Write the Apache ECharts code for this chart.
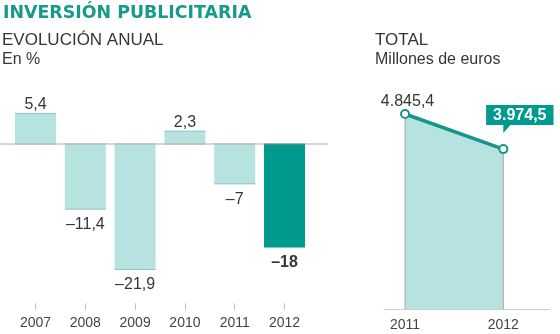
<!DOCTYPE html>
<html>
<head>
<meta charset="utf-8">
<style>html,body{margin:0;padding:0;background:#fff}#c{width:560px;height:334px}</style>
<script src="https://cdn.jsdelivr.net/npm/echarts@6/dist/echarts.min.js"></script>
</head>
<body>
<div id="c"></div>
<script>
// ---- data ----
const years = [2007, 2008, 2009, 2010, 2011, 2012];
const change = [5.4, -11.4, -21.9, 2.3, -7, -18];
const totalYears = [2011, 2012];
const totals = [4845.4, 3974.5];
const titleText = 'INVERSIÓN PUBLICITARIA';
const leftHead = 'EVOLUCIÓN ANUAL';
const leftSub = 'En %';
const rightHead = 'TOTAL';
const rightSub = 'Millones de euros';

// ---- styles ----
const FONT = "'Liberation Sans', Arial, sans-serif";
const TXT = '#363636';
const TEAL = '#009a8f';
const LIGHT = '#b6e3df';
const LINE = '#16968a';

function fmtPct(v) { return String(v).replace('.', ',').replace('-', '\u2013'); }
function fmtTotal(v) {
  const parts = v.toFixed(1).split('.');
  return parts[0].replace(/\B(?=(\d{3})+(?!\d))/g, '.') + ',' + parts[1];
}

const last = years.length - 1;
const barData = years.map((y, i) => ({
  value: [y, change[i]],
  itemStyle: { color: i === last ? TEAL : LIGHT },
  label: {
    position: change[i] >= 0 ? 'top' : 'bottom',
    distance: change[i] >= 0 ? 0.5 : 7,
    fontWeight: i === last ? 'bold' : 'normal'
  }
}));

const lineData = totalYears.map((y, i) => (i === totalYears.length - 1 ? {
  value: [y, totals[i]],
  label: {
    position: 'inside', offset: [16.5, -34],
    color: '#fff', fontWeight: 'bold', backgroundColor: TEAL,
    padding: [2, 7], lineHeight: 16
  }
} : {
  value: [y, totals[i]],
  label: { position: 'inside', offset: [2.5, -12.5], color: TXT }
}));

const chart = echarts.init(document.getElementById('c'), null, { renderer: 'canvas' });

const option = {
  animation: false,
  backgroundColor: '#fff',
  title: [
    { text: titleText, left: 3, top: 4.5, padding: 0,
      textStyle: { fontFamily: "'DejaVu Sans', sans-serif", fontWeight: 'bold', fontSize: 17.4, color: '#17998c' } },
    { text: leftHead, left: 2, top: 32, padding: 0,
      textStyle: { fontFamily: FONT, fontWeight: 'normal', fontSize: 17, color: TXT } },
    { text: leftSub, left: 2, top: 51.5, padding: 0,
      textStyle: { fontFamily: FONT, fontWeight: 'normal', fontSize: 16, color: TXT } },
    { text: rightHead, left: 375, top: 32, padding: 0,
      textStyle: { fontFamily: FONT, fontWeight: 'normal', fontSize: 17, color: TXT } },
    { text: rightSub, left: 375, top: 52, padding: 0,
      textStyle: { fontFamily: FONT, fontWeight: 'normal', fontSize: 16, color: TXT } }
  ],
  grid: [
    { left: 0, width: 327, top: 98, height: 205.3 },
    { left: 384, width: 166, top: 109.3, height: 200 }
  ],
  xAxis: [
    { type: 'value', gridIndex: 0, min: 2006.287, max: 2012.853, position: 'bottom',
      axisLine: { show: true, onZero: true, lineStyle: { color: '#d6d6d6', width: 2 } },
      axisTick: { show: false }, axisLabel: { show: false }, splitLine: { show: false } },
    { type: 'value', gridIndex: 0, min: 2006.287, max: 2012.853, position: 'bottom',
      axisLine: { show: false, onZero: false },
      axisTick: { show: true, customValues: years, length: 6.7, lineStyle: { color: '#c2c2c2' } },
      axisLabel: { show: true, customValues: years, formatter: v => String(v), margin: 12.5,
        fontFamily: FONT, fontSize: 14, color: '#444' },
      splitLine: { show: false } },
    { type: 'value', gridIndex: 1, min: 2010.786, max: 2012.475, position: 'bottom',
      axisLine: { show: true, onZero: false, lineStyle: { color: '#cfcfcf', width: 1 } },
      axisTick: { show: false },
      axisLabel: { show: true, customValues: totalYears, formatter: v => String(v), margin: 8.5,
        fontFamily: FONT, fontSize: 14, color: '#444' },
      splitLine: { show: false } }
  ],
  yAxis: [
    { type: 'value', gridIndex: 0, min: -27.7, max: 8, show: false, splitLine: { show: false } },
    { type: 'value', gridIndex: 1, min: 0, max: 4962, show: false, splitLine: { show: false } }
  ],
  series: [
    { type: 'bar', xAxisIndex: 0, yAxisIndex: 0, barWidth: 41, data: barData, z: 2,
      label: { show: true, fontFamily: FONT, fontSize: 16, color: TXT,
        formatter: p => fmtPct(p.value[1]) } },
    { type: 'custom', xAxisIndex: 0, yAxisIndex: 0, z: 3, silent: true,
      data: years.map((y, i) => [y, change[i], i === last ? 1 : 0]),
      renderItem: function (params, api) {
        const x = api.value(0), v = api.value(1), dark = api.value(2);
        const p0 = api.coord([x, 0]), p1 = api.coord([x, v]);
        const h = 20.5;
        const children = [
          { type: 'line', shape: { x1: p0[0] - h, y1: p0[1], x2: p0[0] + h, y2: p0[1] },
            style: { stroke: dark ? '#6f8f8b' : '#9db3b1', lineWidth: 1.2 } }
        ];
        if (!dark) {
          const off = v >= 0 ? 0.5 : -0.5;
          children.push({ type: 'line', shape: { x1: p1[0] - h, y1: p1[1] + off, x2: p1[0] + h, y2: p1[1] + off },
            style: { stroke: '#93c9c4', lineWidth: 1 } });
        }
        return { type: 'group', children: children };
      } },
    { type: 'line', xAxisIndex: 2, yAxisIndex: 1, data: lineData, z: 3,
      symbol: 'circle', symbolSize: 8,
      itemStyle: { color: '#fff', borderColor: LINE, borderWidth: 2 },
      lineStyle: { color: LINE, width: 3.5 },
      areaStyle: { color: LIGHT, opacity: 1 },
      label: { show: true, fontFamily: FONT, fontSize: 16, color: TXT,
        formatter: p => fmtTotal(p.value[1]) } },
    { type: 'custom', xAxisIndex: 2, yAxisIndex: 1, z: 4, silent: true,
      data: totalYears.map((y, i) => [y, totals[i], i === totalYears.length - 1 ? 1 : 0]),
      renderItem: function (params, api) {
        const x = api.value(0), v = api.value(1), isLast = api.value(2);
        const p0 = api.coord([x, 0]), p1 = api.coord([x, v]);
        const children = [
          { type: 'line', shape: { x1: p0[0], y1: p0[1], x2: p1[0], y2: p1[1] + 5 },
            style: { stroke: '#a9a9a9', lineWidth: 1 } }
        ];
        if (isLast) {
          children.push({ type: 'polygon', shape: { points: [
            [p1[0], p1[1] - 16], [p1[0], p1[1] - 24.5], [p1[0] + 7.5, p1[1] - 24.5]] },
            style: { fill: TEAL } });
        }
        return { type: 'group', children: children };
      } }
  ]
};
chart.setOption(option);
</script>
</body>
</html>
